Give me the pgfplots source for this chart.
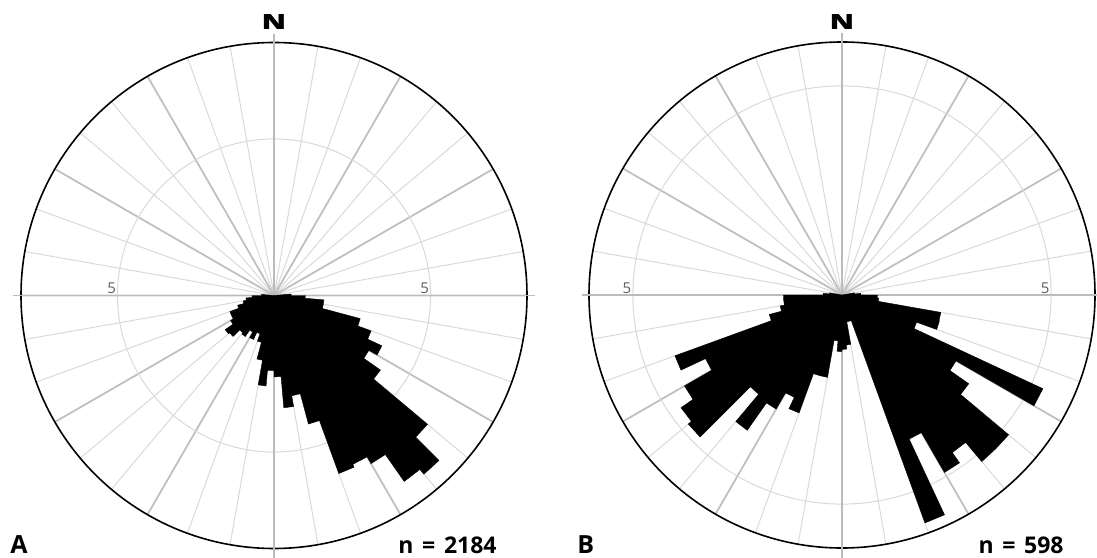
\documentclass[border=0pt]{standalone}
\usepackage{fontspec}
\setmainfont{Open Sans}
\usepackage{pgfplots}
\usepackage{pgfplotstable}
\usepgfplotslibrary{polar}
\pgfplotsset{compat=1.18}
\definecolor{gridthick}{HTML}{C0C0C0}
\definecolor{gridthin}{HTML}{D9D9D9}
\definecolor{gridaxis}{HTML}{BBBBBB}
\definecolor{labelgray}{HTML}{5E5E5E}

% outline of rose A: bearing (deg from N, clockwise), radius
\pgfplotstableread{
b r
85 0
85 0.55
90 0.55
90 1.0
95 1.0
95 1.6
100 1.6
100 1.6
105 1.6
105 2.85
110 2.85
110 3.3
115 3.3
115 3.8
120 3.8
120 3.5
125 3.5
125 4.15
130 4.15
130 6.4
135 6.4
135 7.45
140 7.45
140 7.25
145 7.25
145 6.2
150 6.2
150 5.95
155 5.95
155 6.05
160 6.05
160 4.25
165 4.25
165 3.25
170 3.25
170 3.6
175 3.6
175 2.6
180 2.6
180 2.4
185 2.4
185 2.9
190 2.9
190 2.1
195 2.1
195 1.55
200 1.55
200 1.3
205 1.3
205 1.55
210 1.55
210 1.35
215 1.35
215 1.6
220 1.6
220 1.55
225 1.55
225 1.85
230 1.85
230 1.9
235 1.9
235 1.6
240 1.6
240 1.5
245 1.5
245 1.5
250 1.5
250 1.2
255 1.2
255 1.0
260 1.0
260 0.9
265 0.9
265 0.7
270 0.7
270 0.4
275 0.4
275 0
}\roseA

% outline of rose B
\pgfplotstableread{
b r
80 0
80 0.3
85 0.3
85 0.45
90 0.45
90 0.85
95 0.85
95 0.88
100 0.88
100 2.4
105 2.4
105 2.41
110 2.41
110 1.9
115 1.9
115 5.3
120 5.3
120 3.15
125 3.15
125 3.7
130 3.7
130 5.2
135 5.2
135 5.2
140 5.2
140 4.6
145 4.6
145 4.9
150 4.9
150 3.8
155 3.8
155 5.8
160 5.8
160 0.65
165 0.65
165 0.65
170 0.65
170 1.2
175 1.2
175 1.3
180 1.3
180 1.35
185 1.35
185 1.1
190 1.1
190 2.0
195 2.0
195 2.0
200 2.0
200 3.0
205 3.0
205 2.7
210 2.7
210 3.15
215 3.15
215 3.95
220 3.95
220 3.1
225 3.1
225 4.8
230 4.8
230 4.7
235 4.7
235 4.35
240 4.35
240 3.6
245 3.6
245 4.25
250 4.25
250 1.8
255 1.8
255 1.5
260 1.5
260 1.4
265 1.4
265 1.4
270 1.4
270 0.45
275 0.45
275 0.3
280 0.3
280 0
}\roseB

\pgfplotsset{rose/.style={
  scale only axis, width=253pt, height=253pt,
  xmin=0, xmax=360, ymin=0,
  xtick={0,30,...,330},
  minor xtick={10,20,40,50,70,80,100,110,130,140,160,170,190,200,220,230,250,260,280,290,310,320,340,350},
  ytick={5},
  xticklabels={}, yticklabels={},
  major tick length=0pt, minor tick length=0pt,
  grid=both,
  major x grid style={draw=gridthick, line width=0.9pt},
  minor x grid style={draw=gridthin, line width=0.5pt},
  major y grid style={draw=gridthin, line width=0.5pt},
  axis line style={black, line width=0.8pt},
  clip=false,
  anchor=origin,
}}

\newcommand{\heavyN}{\scalebox{1.4}[1]{\rlap{N}\hspace{0.22pt}\rlap{N}\hspace{0.22pt}N}}

\begin{document}
\begin{tikzpicture}
\useasboundingbox (0,0) rectangle (548.5pt,278.5pt);

\begin{polaraxis}[rose, ymax=8.08, at={(137pt,130.75pt)}]
  \draw[gridaxis, line width=0.8pt] (axis cs:180,8.32) -- (axis cs:0,8.32);
  \draw[gridaxis, line width=0.8pt] (axis cs:90,8.36) -- (axis cs:270,8.7);
  \addplot[fill=black, draw=black, line width=0.2pt] table[x expr=90-\thisrow{b}, y=r] {\roseA};
  \node[labelgray, anchor=south east, font=\fontsize{7.5}{7.5}\selectfont, inner sep=0.6pt] at (axis cs:0,5) {5};
  \node[labelgray, anchor=south east, font=\fontsize{7.5}{7.5}\selectfont, inner sep=0.6pt] at (axis cs:180,5) {5};
\end{polaraxis}

\begin{polaraxis}[rose, ymax=6.05, at={(421pt,131pt)}]
  \draw[gridaxis, line width=0.8pt] (axis cs:180,6.22) -- (axis cs:0,6.22);
  \draw[gridaxis, line width=0.8pt] (axis cs:90,6.26) -- (axis cs:270,6.5);
  \addplot[fill=black, draw=black, line width=0.2pt] table[x expr=90-\thisrow{b}, y=r] {\roseB};
  \node[labelgray, anchor=south east, font=\fontsize{7.5}{7.5}\selectfont, inner sep=0.6pt] at (axis cs:0,5) {5};
  \node[labelgray, anchor=south east, font=\fontsize{7.5}{7.5}\selectfont, inner sep=0.6pt] at (axis cs:180,5) {5};
\end{polaraxis}

\node[anchor=center, inner sep=0pt, font=\bfseries\fontsize{10.5}{10.5}\selectfont] at (137pt,267.5pt) {\heavyN};
\node[anchor=center, inner sep=0pt, font=\bfseries\fontsize{10.5}{10.5}\selectfont] at (421pt,267.5pt) {\heavyN};
\node[anchor=base west, inner sep=0pt, font=\bfseries\fontsize{12.5}{12.5}\selectfont] at (5pt,2pt) {A};
\node[anchor=base west, inner sep=0pt, font=\bfseries\fontsize{12.5}{12.5}\selectfont] at (288.5pt,2pt) {B};
\node[anchor=base east, inner sep=0pt, font=\bfseries\fontsize{11.5}{11.5}\selectfont] at (248.5pt,2pt) {n\hspace{0.38em}=\hspace{0.38em}2184};
\node[anchor=base east, inner sep=0pt, font=\bfseries\fontsize{11.5}{11.5}\selectfont] at (532pt,2pt) {n\hspace{0.38em}=\hspace{0.38em}598};
\end{tikzpicture}
\end{document}
